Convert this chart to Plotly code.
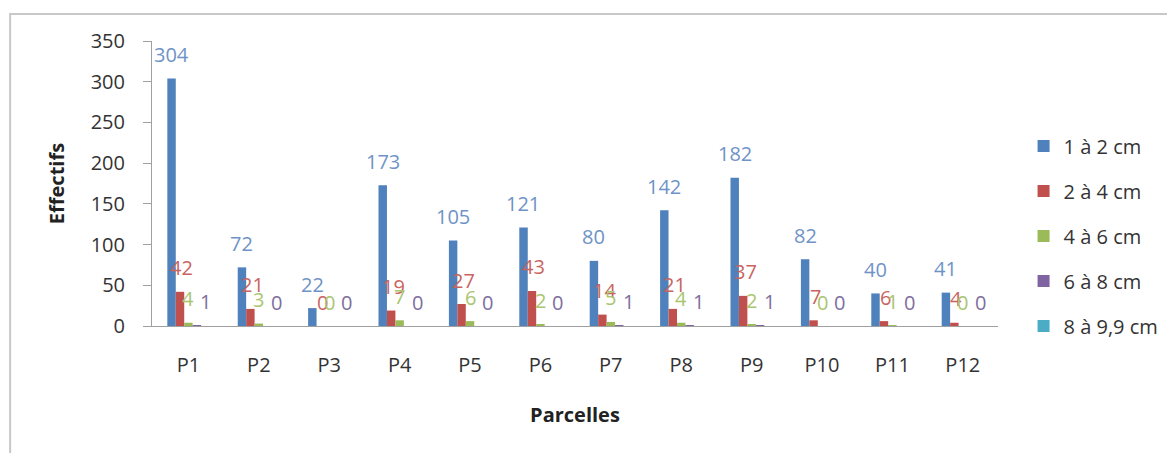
import plotly.graph_objects as go

categories = ["P1", "P2", "P3", "P4", "P5", "P6", "P7", "P8", "P9", "P10", "P11", "P12"]
series_names = ["1 à 2 cm", "2 à 4 cm", "4 à 6 cm", "6 à 8 cm", "8 à 9,9 cm"]
s1 = [304, 72, 22, 173, 105, 121, 80, 142, 182, 82, 40, 41]
s2 = [42, 21, 0, 19, 27, 43, 14, 21, 37, 7, 6, 4]
s3 = [4, 3, 0, 7, 6, 2, 5, 4, 2, 0, 1, 0]
s4 = [1, 0, 0, 0, 0, 0, 1, 1, 1, 0, 0, 0]
s5 = [None] * 12

bar_colors = ["#4F81BD", "#C0504D", "#9BBB59", "#8064A2", "#4BACC6"]
label_colors = ["#6F93C6", "#C96461", "#A9C56E", "#7E6E9E", "#4BACC6"]
series = [s1, s2, s3, s4, s5]
show_labels = [True, True, True, True, False]
label_dx = [0, 2, 0, 9, 0]

FONT = "Open Sans"
W, H = 1167, 445
ML, MT = 144, 33
PW, PH = 847, 285
BARGAP = 0.40
NSER = len(series)
cat_px = PW / len(categories)
bar_px = cat_px * (1 - BARGAP) / NSER

fig = go.Figure()
annotations = []
for i, (name, vals) in enumerate(zip(series_names, series)):
    fig.add_trace(go.Bar(
        x=categories, y=vals, name=name,
        marker=dict(color=bar_colors[i], line=dict(width=0)),
        legendgroup=name,
    ))
    if show_labels[i]:
        for c, v in zip(categories, vals):
            if v is None:
                continue
            annotations.append(dict(
                x=c, y=v, xref="x", yref="y", text=str(v), showarrow=False,
                xshift=(i - (NSER - 1) / 2) * bar_px + label_dx[i], yshift=24,
                font=dict(color=label_colors[i], size=20, family=FONT),
            ))

fig.update_layout(
    width=W, height=H,
    margin=dict(l=ML, r=W - ML - PW, t=MT, b=H - MT - PH),
    paper_bgcolor="white", plot_bgcolor="white",
    barmode="group", bargap=BARGAP, bargroupgap=0,
    font=dict(family=FONT, size=20, color="#333333"),
    legend=dict(x=1.029, y=0.70, xanchor="left", yanchor="top",
                font=dict(size=20, family=FONT, color="#333333"),
                tracegroupgap=16, bgcolor="rgba(0,0,0,0)"),
    showlegend=True,
    annotations=annotations,
    shapes=[dict(type="rect", xref="paper", yref="paper",
                 x0=-0.1677, x1=1.214, y0=-0.47, y1=1.0947,
                 line=dict(color="#C8C8C8", width=2), layer="below")],
)
fig.update_xaxes(showline=True, linecolor="#A0A0A0", linewidth=1, ticks="",
                 ticklabelstandoff=21,
                 tickfont=dict(size=20, color="#333333"),
                 title=dict(text="<b>Parcelles</b>", font=dict(size=20, color="#222222"), standoff=30),
                 showgrid=False)
fig.update_yaxes(range=[0, 350], dtick=50, showline=True, linecolor="#A0A0A0", linewidth=1,
                 ticks="outside", ticklen=8, tickcolor="#A0A0A0",
                 ticklabelstandoff=14,
                 tickfont=dict(size=20, color="#333333"),
                 title=dict(text="<b>Effectifs</b>", font=dict(size=20, color="#222222"), standoff=20),
                 showgrid=False, zeroline=False)
fig.write_html("out.html")
